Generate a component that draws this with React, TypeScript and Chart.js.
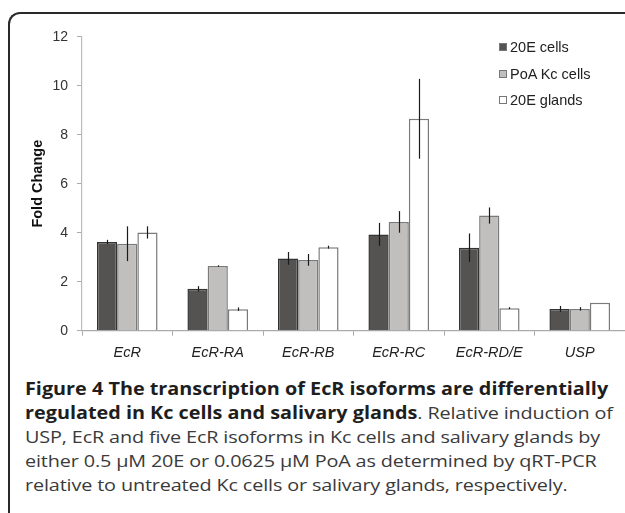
import React, { useEffect, useRef } from "react";
import { Chart, registerables } from "chart.js";

Chart.register(...registerables);

const categories = ["EcR", "EcR-RA", "EcR-RB", "EcR-RC", "EcR-RD/E", "USP"];
const seriesLabels = ["20E cells", "PoA Kc cells", "20E glands"];
const cells20E = [3.62, 1.71, 2.95, 3.93, 3.39, 0.89];
const cells20EErr = [0.09, 0.11, 0.26, 0.47, 0.58, 0.12];
const poaKc = [3.55, 2.64, 2.89, 4.44, 4.7, 0.89];
const poaKcErr = [0.71, 0.03, 0.24, 0.44, 0.33, 0.07];
const glands20E = [4.01, 0.88, 3.41, 8.65, 0.92, 1.14];
const glands20EErr = [0.25, 0.07, 0.06, 1.63, 0.04, 0];
const yMin = 0;
const yMax = 12;
const yStep = 2;

const fills = ["#555351", "#c0bfbe", "#ffffff"];
const borders = ["#333333", "#7a7a7a", "#7a7a7a"];

const errorBars = {
  id: "errorBars",
  afterDatasetsDraw(chart: any) {
    const ctx = chart.ctx;
    const y = chart.scales.y;
    chart.data.datasets.forEach((ds: any, i: number) => {
      const meta = chart.getDatasetMeta(i);
      meta.data.forEach((bar: any, j: number) => {
        const v = ds.data[j];
        const e = ds.errors[j];
        if (!e) return;
        ctx.save();
        ctx.strokeStyle = "#1a1a1a";
        ctx.lineWidth = 1.2;
        ctx.beginPath();
        const x = Math.round(bar.x) + 0.5;
        ctx.moveTo(x, y.getPixelForValue(v + e));
        ctx.lineTo(x, y.getPixelForValue(v - e));
        ctx.stroke();
        ctx.restore();
      });
    });
  },
};

export default function App() {
  const ref = useRef<HTMLCanvasElement>(null);

  useEffect(() => {
    if (!ref.current) return;
    const series = [cells20E, poaKc, glands20E];
    const errs = [cells20EErr, poaKcErr, glands20EErr];
    const chart = new Chart(ref.current, {
      type: "bar",
      data: {
        labels: categories,
        datasets: series.map((d, i) => ({
          label: seriesLabels[i],
          data: d,
          errors: errs[i],
          backgroundColor: fills[i],
          borderColor: borders[i],
          borderWidth: 1.5,
          categoryPercentage: 0.67,
          barPercentage: 1.0,
        })) as any,
      },
      options: {
        animation: false,
        responsive: false,
        maintainAspectRatio: false,
        layout: { padding: { top: 36.7, right: 0, bottom: 0, left: 0 } },
        plugins: { legend: { display: false }, tooltip: { enabled: false } },
        scales: {
          x: {
            grid: {
              display: true,
              drawOnChartArea: false,
              tickLength: 5,
              color: "#aaaaaa",
              offset: true,
            },
            border: { color: "#aaaaaa", width: 1.2 },
            ticks: {
              font: { family: '"Liberation Sans", Arial, sans-serif', size: 14.5, style: "italic" },
              color: "#222222",
              padding: 9,
              maxRotation: 0,
            },
            afterFit: (s: any) => {
              s.height = 39.3;
            },
          },
          y: {
            min: yMin,
            max: yMax,
            ticks: {
              stepSize: yStep,
              font: { family: '"Liberation Sans", Arial, sans-serif', size: 14 },
              color: "#333333",
              padding: 9,
            },
            grid: { drawOnChartArea: false, tickLength: 5, color: "#aaaaaa" },
            border: { color: "#bbbbbb", width: 1.2 },
            title: {
              display: true,
              text: "Fold Change",
              font: { family: '"Liberation Sans", Arial, sans-serif', size: 14.5, weight: "bold" },
              color: "#111111",
              padding: { top: 29, bottom: 0 },
            },
            afterFit: (s: any) => {
              s.width = 82;
            },
          },
        },
      },
      plugins: [errorBars],
    });
    return () => chart.destroy();
  }, []);

  const legendRowTops = [40, 66.5, 93];

  return (
    <div
      style={{
        position: "fixed",
        left: 0,
        top: 0,
        width: 625,
        height: 513,
        overflow: "hidden",
        background: "#ffffff",
      }}
    >
      <div
        style={{
          position: "absolute",
          left: 8,
          top: 12,
          width: 800,
          height: 800,
          borderLeft: "2px solid #2a2a2a",
          borderTop: "2px solid #2a2a2a",
          borderTopLeftRadius: 12,
          boxSizing: "border-box",
        }}
      />
      <canvas
        ref={ref}
        width={625}
        height={370}
        style={{ position: "absolute", left: 0, top: 0, width: 625, height: 370 }}
      />
      {seriesLabels.map((lab, i) => (
        <div
          key={lab}
          style={{
            position: "absolute",
            left: 499,
            top: legendRowTops[i],
            height: 14,
            display: "flex",
            alignItems: "center",
            fontFamily: '"Liberation Sans", Arial, sans-serif',
            fontSize: 14.5,
            color: "#222222",
            whiteSpace: "nowrap",
          }}
        >
          <span
            style={{
              display: "inline-block",
              width: 6,
              height: 6,
              background: fills[i],
              border: "1px solid #777777",
              marginRight: 3,
            }}
          />
          {lab}
        </div>
      ))}
      <div
        style={{
          position: "absolute",
          left: 25,
          top: 377,
          width: 620,
          fontFamily: '"Open Sans", sans-serif',
          fontSize: 17,
          lineHeight: "24px",
          color: "#3a3a3a",
          whiteSpace: "nowrap",
          transform: "scaleX(1.165)",
          transformOrigin: "0 0",
        }}
      >
        <b style={{ color: "#1e1e1e" }}>Figure 4 The transcription of EcR isoforms are differentially</b>
        <br />
        <b style={{ color: "#1e1e1e" }}>regulated in Kc cells and salivary glands</b>
        <span style={{ letterSpacing: "-0.12px" }}>. Relative induction of</span>
        <br />
        <span style={{ letterSpacing: "-0.12px" }}>
          USP, EcR and five EcR isoforms in Kc cells and salivary glands by
        </span>
        <br />
        <span style={{ letterSpacing: "-0.12px" }}>
          either 0.5 µM 20E or 0.0625 µM PoA as determined by qRT-PCR
        </span>
        <br />
        <span style={{ letterSpacing: "-0.12px" }}>
          relative to untreated Kc cells or salivary glands, respectively.
        </span>
      </div>
    </div>
  );
}
